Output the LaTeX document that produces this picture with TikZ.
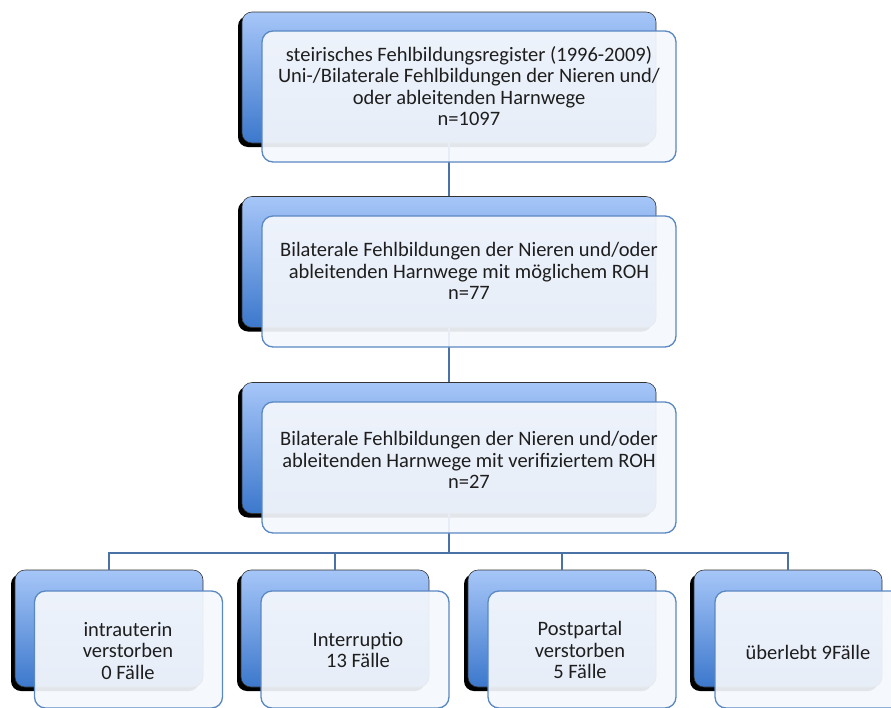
\documentclass[tikz,border=0pt]{standalone}
\usepackage{fontspec}
\setmainfont{Carlito}
\usetikzlibrary{shadows}
\definecolor{bgtop}{HTML}{A6C6F8}
\definecolor{bgbot}{HTML}{3C78CC}
\definecolor{frontfill}{HTML}{F4F7FC}
\definecolor{frontline}{HTML}{5A88C2}
\definecolor{connline}{HTML}{4A72A6}
\definecolor{txt}{HTML}{1E1E1E}
\begin{document}
\begin{tikzpicture}[x=1pt,y=-1pt,
  backbox/.style={rectangle, rounded corners=10pt, inner sep=0pt,
    top color=bgtop, bottom color=bgbot, draw=black!80, line width=0.6pt,
    drop shadow={shadow xshift=-4pt, shadow yshift=-4pt, fill=black, opacity=1}},
  frontbox/.style={rectangle, rounded corners=11pt, inner sep=0pt,
    fill=frontfill, fill opacity=0.93, draw=frontline, line width=1.3pt},
  big/.style={minimum width=414pt, minimum height=131pt},
  small/.style={minimum width=188pt, minimum height=117pt},
  lbl/.style={align=center, text=txt, font=\fontsize{20.5}{21.5}\selectfont, inner sep=0pt},
  conn/.style={draw=connline, line width=1.6pt}
]
\useasboundingbox (0,0) rectangle (891,707);
% back boxes
\node[backbox, big] (k1) at (449,77.5) {};
\node[backbox, big] (k2) at (449,262) {};
\node[backbox, big] (k3) at (449,448) {};
\node[backbox, small] (b1) at (109,628.5) {};
\node[backbox, small] (b2) at (335,628.5) {};
\node[backbox, small] (b3) at (562,628.5) {};
\node[backbox, small] (b4) at (788,628.5) {};
% connectors
\coordinate (bus) at (449,553);
\draw[conn] (k1.south) -- (k2.north);
\draw[conn] (k2.south) -- (k3.north);
\draw[conn] (k3.south) -- (bus);
\draw[conn] (bus) -| (b1.north);
\draw[conn] (bus) -| (b2.north);
\draw[conn] (bus) -| (b3.north);
\draw[conn] (bus) -| (b4.north);
% front boxes
\node[frontbox, big] (f1) at (469,96.5) {};
\node[frontbox, big] (f2) at (469,281.5) {};
\node[frontbox, big] (f3) at (469,467.5) {};
\node[frontbox, small] (g1) at (128.5,649.5) {};
\node[frontbox, small] (g2) at (355,649.5) {};
\node[frontbox, small] (g3) at (582,649.5) {};
\node[frontbox, small] (g4) at (809,649.5) {};
% texts
\node[lbl] (t1) at (469,86) {steirisches Fehlbildungsregister (1996-2009)\\Uni-/Bilaterale Fehlbildungen der Nieren und/\\oder ableitenden Harnwege\\n=1097};
\node[lbl] (t2) at (469,271) {Bilaterale Fehlbildungen der Nieren und/oder\\ableitenden Harnwege mit möglichem ROH\\n=77};
\node[lbl] (t3) at (469,460) {Bilaterale Fehlbildungen der Nieren und/oder\\ableitenden Harnwege mit verifiziertem ROH\\n=27};
\node[lbl] (u1) at (128,651) {intrauterin\\verstorben\\0 Fälle};
\node[lbl] (u2) at (358,650) {Interruptio\\13 Fälle};
\node[lbl] (u3) at (580,650) {Postpartal\\verstorben\\5 Fälle};
\node[lbl] (u4) at (808,652) {überlebt 9Fälle};
\end{tikzpicture}
\end{document}
